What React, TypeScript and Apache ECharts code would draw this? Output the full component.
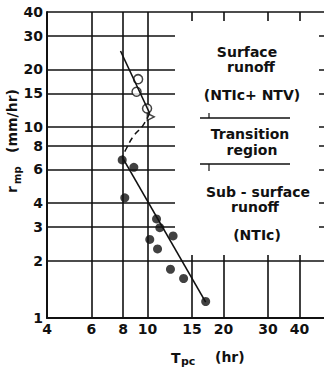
import React, { useEffect, useRef } from 'react';
import * as echarts from 'echarts';

// Axis tick values (log-log chart)
const xTicks = [4, 6, 8, 10, 15, 20, 30, 40];
const yTicks = [1, 2, 3, 4, 6, 8, 10, 15, 20, 30, 40];

// Filled circles: sub-surface runoff (NTIc)
const filledT = [7.94, 8.83, 8.13, 10.86, 11.19, 12.63, 10.21, 10.96, 12.33, 13.9, 17.0];
const filledR = [6.72, 6.15, 4.26, 3.3, 2.97, 2.69, 2.58, 2.3, 1.8, 1.61, 1.22];

// Open circles: surface runoff (NTIc + NTV)
const openT = [9.18, 9.05, 9.96];
const openR = [17.8, 15.3, 12.5];

// Open triangle
const triT = [10.3];
const triR = [11.3];

// Fitted lines
const surfLineT = [7.82, 10.2];
const surfLineR = [25, 11.8];
const transT = [10.2, 9.6, 8.77, 8.26, 7.94];
const transR = [11.8, 10.2, 8.9, 7.74, 6.99];
const subLineT = [7.94, 17.0];
const subLineR = [6.95, 1.21];

const pairs = (t: number[], r: number[]) => t.map((v, i) => [v, r[i]]);

const INK = '#111';
const FONT = '"DejaVu Sans", sans-serif';

export default function App() {
  const ref = useRef<HTMLDivElement>(null);

  useEffect(() => {
    if (!ref.current) return;
    const chart = echarts.init(ref.current, null, { renderer: 'svg' });

    const bold = (size: number) => `bold ${size}px ${FONT}`;
    const txt = (text: string, x: number, y: number, size = 14, align = 'center') => ({
      type: 'text',
      x,
      y,
      z: 3,
      silent: true,
      style: {
        text,
        font: bold(size),
        fill: INK,
        lineHeight: size + 1,
        textAlign: align,
        align,
        textVerticalAlign: 'middle',
        verticalAlign: 'middle',
      },
    });
    const seg = (x1: number, y1: number, x2: number, y2: number, w = 1.5) => ({
      type: 'line',
      z: 3,
      silent: true,
      shape: { x1, y1, x2, y2 },
      style: { stroke: INK, lineWidth: w },
    });

    const option: any = {
      animation: false,
      backgroundColor: '#fff',
      grid: { left: 47, top: 12, width: 278, height: 306, containLabel: false },
      xAxis: {
        type: 'log',
        logBase: 10,
        min: 4,
        max: 50,
        axisLine: { show: true, onZero: false, lineStyle: { color: INK, width: 2 } },
        axisTick: { show: false, customValues: xTicks },
        axisLabel: {
          customValues: xTicks,
          formatter: (v: number) => String(Math.round(v)),
          fontFamily: FONT,
          fontWeight: 'bold',
          fontSize: 14,
          color: INK,
          margin: 4,
          hideOverlap: false,
        },
        splitLine: { show: true, lineStyle: { color: INK, width: 1.6 } },
      },
      yAxis: {
        type: 'log',
        logBase: 10,
        min: 1,
        max: 40,
        axisLine: { show: true, onZero: false, lineStyle: { color: INK, width: 2 } },
        axisTick: { show: false, customValues: yTicks },
        axisLabel: {
          customValues: yTicks,
          formatter: (v: number) => String(Math.round(v)),
          fontFamily: FONT,
          fontWeight: 'bold',
          fontSize: 14,
          color: INK,
          margin: 4,
          hideOverlap: false,
        },
        splitLine: { show: true, lineStyle: { color: INK, width: 1.6 } },
      },
      series: [
        {
          type: 'line',
          data: pairs(surfLineT, surfLineR),
          symbol: 'none',
          silent: true,
          lineStyle: { color: INK, width: 1.6 },
        },
        {
          type: 'line',
          data: pairs(transT, transR),
          symbol: 'none',
          smooth: 0.4,
          silent: true,
          lineStyle: { color: INK, width: 1.5, type: [6, 4] },
        },
        {
          type: 'line',
          data: pairs(subLineT, subLineR),
          symbol: 'none',
          silent: true,
          lineStyle: { color: INK, width: 1.6 },
        },
        {
          type: 'scatter',
          data: pairs(filledT, filledR),
          symbol: 'circle',
          symbolSize: 9,
          silent: true,
          itemStyle: { color: INK },
        },
        {
          type: 'scatter',
          data: pairs(openT, openR),
          symbol: 'circle',
          symbolSize: 9,
          silent: true,
          itemStyle: { color: '#fff', borderColor: INK, borderWidth: 1.5 },
        },
        {
          type: 'scatter',
          data: pairs(triT, triR),
          symbol: 'triangle',
          symbolSize: 7,
          symbolRotate: -90,
          silent: true,
          itemStyle: { color: '#fff', borderColor: INK, borderWidth: 1.3 },
        },
      ],
      graphic: {
        elements: [
          {
            type: 'rect',
            z: 1,
            silent: true,
            shape: { x: 175, y: 21, width: 144, height: 234 },
            style: { fill: '#fff' },
          },
          txt('Surface', 247, 52),
          txt('runoff', 251, 67),
          txt('(NTIc+ NTV)', 252, 95),
          seg(200, 118, 290, 118),
          seg(209, 113, 209, 118, 1.2),
          txt('Transition', 250, 134),
          txt('region', 252, 150),
          seg(200, 164, 290, 164),
          seg(209, 164, 209, 171, 1.2),
          txt('Sub - surface', 258, 192),
          txt('runoff', 255, 207),
          txt('(NTIc)', 257, 235),
          // x-axis title
          txt('T', 171, 358, 14, 'left'),
          txt('pc', 181, 361, 11, 'left'),
          txt('(hr)', 215, 357, 14, 'left'),
          // y-axis title (rotated)
          {
            type: 'group',
            x: 12,
            y: 193,
            rotation: Math.PI / 2,
            children: [
              txt('r', 0, 0, 14, 'left'),
              txt('mp', 9, 5, 10, 'left'),
              txt('(mm/hr)', 40, 0, 14, 'left'),
            ],
          },
        ],
      },
    };

    chart.setOption(option);
    return () => chart.dispose();
  }, []);

  return (
    <div
      ref={ref}
      style={{ position: 'absolute', left: 0, top: 0, width: 324, height: 369, background: '#fff' }}
    />
  );
}
